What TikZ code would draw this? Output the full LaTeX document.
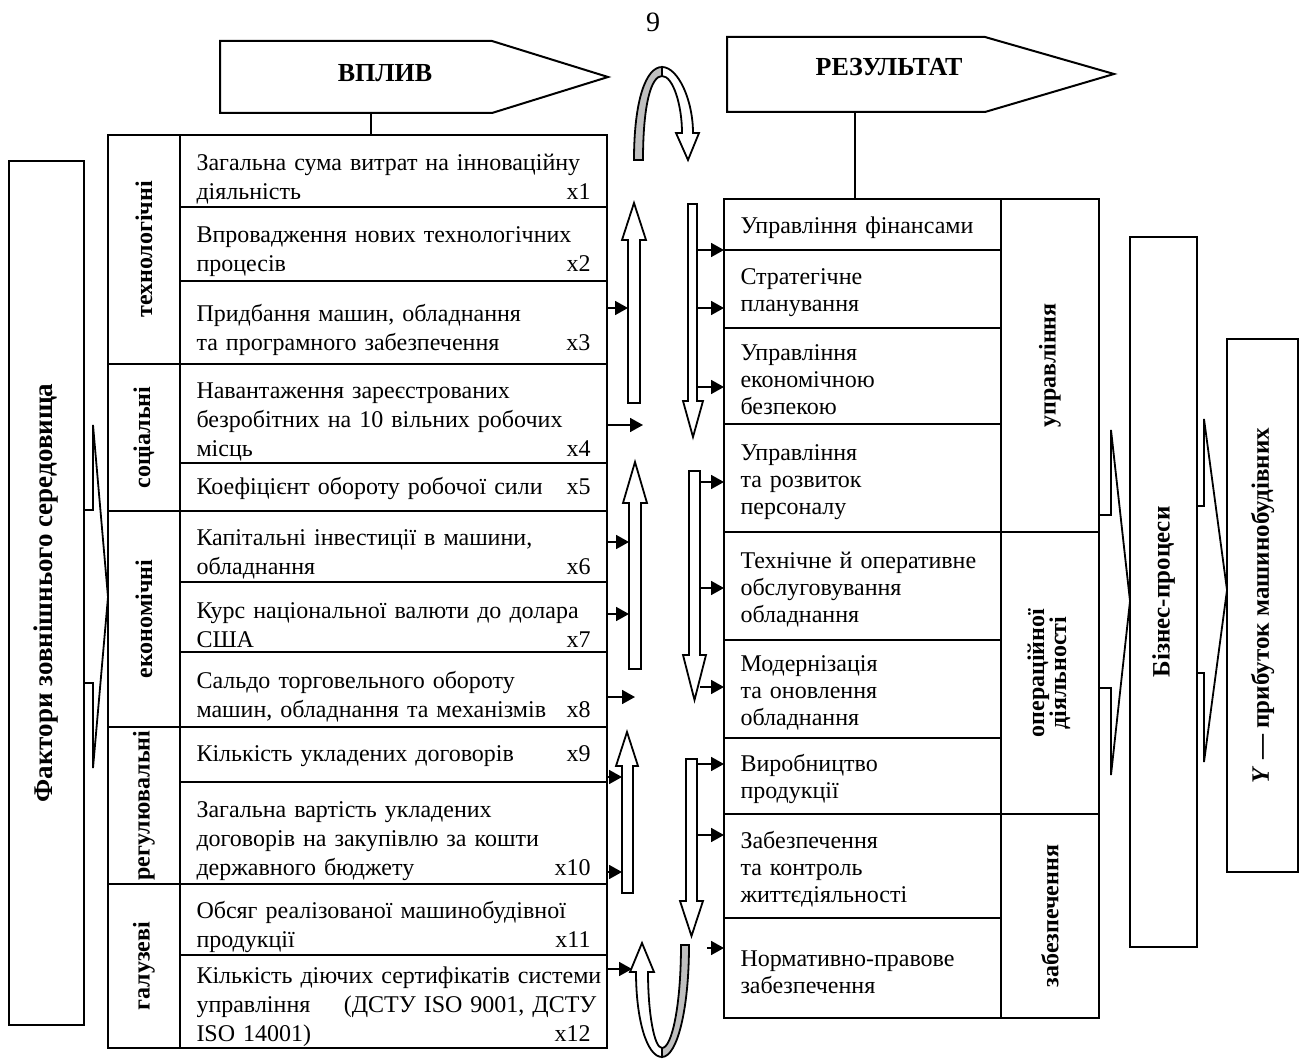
\documentclass[tikz,border=0pt]{standalone}
\usepackage{fontspec}
\setmainfont{Liberation Serif}
\usepackage{tikz}
\usetikzlibrary{arrows.meta,positioning,calc}
\newcommand{\xn}[1]{\hskip 0pt plus 1filll\relax #1\hspace*{3pt}}

\begin{document}
\begin{tikzpicture}[x=0.5pt, y=-0.5pt,
  cell/.style={rectangle, draw, line width=1pt, outer sep=0pt, inner xsep=8.25pt,
               inner ysep=0pt, align=left},
  row/.style={cell, minimum width=213.5pt, text width=197pt, text height=16pt,
              font=\fontsize{12}{14.5}\selectfont},
  rrow/.style={cell, minimum width=138.5pt, text width=122pt, text height=12pt,
               font=\fontsize{12}{13.5}\selectfont},
  cat/.style={rectangle, draw, line width=1pt, outer sep=0pt, inner sep=0pt,
              minimum width=36pt, anchor=north west,
              font=\bfseries\fontsize{12}{13}\selectfont},
  rcat/.style={cat, minimum width=49pt},
  tall/.style={rectangle, draw, line width=1pt, outer sep=0pt, inner sep=0pt,
               anchor=north west, font=\bfseries\fontsize{12.5}{14}\selectfont},
  hollow/.style={draw, fill=white, line width=0.9pt},
  shade/.style={draw, fill=black!25, line width=0.9pt},
  arr/.style={-{Triangle[length=6.5pt, width=7pt]}, line width=0.9pt},
]
\useasboundingbox (0,0) rectangle (1307,1059);

\node[font=\fontsize{14}{16}\selectfont] (pnum) at (653,22) {9};

\draw[line width=1pt] (220,41) -- (492,41) -- (608,77) -- (492,113) -- (220,113) -- cycle;
\node[font=\bfseries\fontsize{13}{15}\selectfont] (vplyv) at (385,73) {ВПЛИВ};
\draw[line width=1pt] (727,37) -- (985,37) -- (1114,74) -- (985,112) -- (727,112) -- cycle;
\node[font=\bfseries\fontsize{13}{15}\selectfont] (rezult) at (889,67) {РЕЗУЛЬТАТ};
\coordinate (vplyvfoot) at (371,113);
\coordinate (rezfoot) at (855,112);

\node[row, minimum height=36pt, anchor=north west] (r1) at (180,135) {Загальна сума витрат на інноваційну\\діяльність\xn{x1}};
\node[row, minimum height=37pt, below=0pt of r1] (r2) {Впровадження нових технологічних\\процесів\xn{x2}};
\node[row, minimum height=41.5pt, below=0pt of r2] (r3) {Придбання машин, обладнання\\та  програмного забезпечення\xn{x3}};
\node[row, minimum height=49.5pt, below=0pt of r3] (r4) {Навантаження зареєстрованих\\безробітних на 10 вільних робочих\\місць\xn{x4}};
\node[row, minimum height=24pt, text height=10pt, below=0pt of r4] (r5) {Коефіцієнт обороту робочої сили\xn{x5}};
\node[row, minimum height=35.5pt, below=0pt of r5] (r6) {Капітальні інвестиції в машини,\\обладнання\xn{x6}};
\node[row, minimum height=35pt, below=0pt of r6] (r7) {Курс національної валюти до долара\\США\xn{x7}};
\node[row, minimum height=37.5pt, below=0pt of r7] (r8) {Сальдо торговельного обороту\\машин, обладнання та механізмів\xn{x8}};
\node[row, minimum height=27.5pt, text height=10pt, below=0pt of r8] (r9) {Кількість укладених договорів\xn{x9}};
\node[row, minimum height=51pt, below=0pt of r9] (r10) {Загальна вартість укладених\\договорів на закупівлю за кошти\\державного бюджету\xn{x10}};
\node[row, minimum height=35.5pt, below=0pt of r10] (r11) {Обсяг реалізованої машинобудівної\\продукції\xn{x11}};
\node[row, minimum height=46.5pt, text height=14pt, below=0pt of r11] (r12) {\makebox[200pt][l]{Кількість діючих сертифікатів системи}\\\makebox[200pt][s]{управління\hfill(ДСТУ ISO 9001, ДСТУ}\\ISO 14001)\xn{x12}};

\node[cat, minimum height=114.5pt] (ctech) at (108,135) {\rotatebox{90}{технологічні}};
\node[cat, minimum height=73.5pt] (csoc) at (108,364) {\rotatebox{90}{соціальні}};
\node[cat, minimum height=108pt] (cecon) at (108,511) {\rotatebox{90}{економічні}};
\node[cat, minimum height=78.5pt] (creg) at (108,727) {\rotatebox{90}{регулювальні}};
\node[cat, minimum height=82pt] (cgal) at (108,884) {\rotatebox{90}{галузеві}};

\node[rrow, minimum height=25.5pt, anchor=north west] (fin) at (724,199) {Управління фінансами};
\node[rrow, minimum height=39pt, below=0pt of fin] (strat) {Стратегічне\\планування};
\node[rrow, minimum height=48pt, below=0pt of strat] (ekbez) {Управління\\економічною\\безпекою};
\node[rrow, minimum height=54pt, below=0pt of ekbez] (pers) {Управління\\та розвиток\\персоналу};
\node[rrow, minimum height=54pt, below=0pt of pers] (obsl) {Технічне й оперативне\\обслуговування\\обладнання};
\node[rrow, minimum height=49pt, below=0pt of obsl] (modern) {Модернізація\\та оновлення\\обладнання};
\node[rrow, minimum height=38pt, below=0pt of modern] (vyrob) {Виробництво\\продукції};
\node[rrow, minimum height=52pt, below=0pt of vyrob] (zhyt) {Забезпечення\\та контроль\\життєдіяльності};
\node[rrow, minimum height=50pt, below=0pt of zhyt] (norm) {Нормативно-правове\\забезпечення};

\node[rcat, minimum height=166.5pt] (cupr) at (1001,199) {\rotatebox{90}{управління}};
\node[rcat, minimum height=141pt] (coper) at (1001,532) {\rotatebox{90}{\begin{tabular}{@{}c@{}}операційної\\[-2pt]діяльності\end{tabular}}};
\node[rcat, minimum height=102pt] (czab) at (1001,814) {\rotatebox{90}{забезпечення}};

\node[tall, minimum width=37.5pt, minimum height=432pt, font=\bfseries\fontsize{13.5}{15}\selectfont] (fact) at (9,161) {\rotatebox{90}{Фактори зовнішнього середовища}};
\node[tall, minimum width=33.5pt, minimum height=355pt] (biz) at (1130,237) {\rotatebox{90}{Бізнес-процеси}};
\node[tall, minimum width=35.5pt, minimum height=266.5pt] (ybox) at (1227,339) {\rotatebox{90}{\textit{Y} — прибуток машинобудівних}};

\draw[line width=1pt] (vplyvfoot) -- (vplyvfoot |- r1.north);
\draw[line width=1pt] (rezfoot) -- (rezfoot |- fin.north);

\draw[line width=0.9pt] (fact.east |- 0,510) -| (93,425) -- (cecon.west |- 0,597) -- (93,768) |- (fact.east |- 0,683);
\draw[line width=0.9pt] (cupr.east |- 0,515) -| (1111,430) -- (biz.west |- 0,601) -- (1111,775) |- (coper.east |- 0,688);
\draw[line width=0.9pt] (biz.east |- 0,506) -| (1204,419) -- (ybox.west |- 0,590) -- (1204,762) |- (biz.east |- 0,673);

\draw[hollow] (628,403) -- (628,240) -- (622,240) -- (634,203) -- (646,240) -- (640,240) -- (640,403) -- cycle;
\draw[hollow] (629,669) -- (629,503) -- (623,503) -- (635,462) -- (647,503) -- (641,503) -- (641,669) -- cycle;
\draw[hollow] (622,893) -- (622,766) -- (616,766) -- (627,732) -- (638,766) -- (633,766) -- (633,893) -- cycle;
\draw[hollow] (688,204) -- (688,401) -- (683,401) -- (693,437) -- (703,401) -- (697,401) -- (697,204) -- cycle;
\draw[hollow] (689,471) -- (689,655) -- (683,655) -- (694.5,700) -- (706,655) -- (700,655) -- (700,471) -- cycle;
\draw[hollow] (686,759) -- (686,901) -- (680,901) -- (691.5,936) -- (703,901) -- (697,901) -- (697,759) -- cycle;

\draw[shade] (634,160) .. controls (634,100) and (646,67) .. (662,67) -- (662,76) .. controls (651,76) and (643,105) .. (643,160) -- cycle;
\draw[hollow] (662,67) .. controls (678,67) and (693,100) .. (693,133) -- (699,133) -- (688,160) -- (676,133) -- (682,133) .. controls (682,105) and (673,76) .. (662,76) -- cycle;
\draw[shade] (689,945) .. controls (689,1010) and (677,1057) .. (662,1057) -- (662,1048) .. controls (672,1048) and (681,1005) .. (681,945) -- cycle;
\draw[hollow] (662,1057) .. controls (647,1057) and (636,1020) .. (636,972) -- (630,972) -- (642,943) -- (654,972) -- (648,972) .. controls (648,1012) and (654,1048) .. (662,1048) -- cycle;

\draw[arr] ([yshift=7.25pt]r3.east) -- ++(21,0);
\draw[arr] ([yshift=-5.75pt]r4.east) -- ++(36,0);
\draw[arr] ([yshift=2.25pt]r6.east) -- ++(22,0);
\draw[arr] ([yshift=1.5pt]r7.east) -- ++(22,0);
\draw[arr] ([yshift=-3.75pt]r8.east) -- ++(28,0);
\draw[arr] ([yshift=-11.25pt]r9.east) -- ++(15,0);
\draw[arr] ([yshift=-19.5pt]r10.east) -- ++(15,0);
\draw[arr] ([yshift=16.25pt]r12.east) -- ++(25,0);

\draw[arr] ([xshift=-13.5pt]fin.south west) -- (fin.south west);
\draw[arr] ([xshift=-13.5pt,yshift=-9.5pt]strat.west) -- ([yshift=-9.5pt]strat.west);
\draw[arr] ([xshift=-13.5pt,yshift=-5.5pt]ekbez.west) -- ([yshift=-5.5pt]ekbez.west);
\draw[arr] ([xshift=-12pt,yshift=-2pt]pers.west) -- ([yshift=-2pt]pers.west);
\draw[arr] ([xshift=-12pt,yshift=-1pt]obsl.west) -- ([yshift=-1pt]obsl.west);
\draw[arr] ([xshift=-12pt,yshift=1pt]modern.west) -- ([yshift=1pt]modern.west);
\draw[arr] ([xshift=-13.5pt,yshift=6pt]vyrob.west) -- ([yshift=6pt]vyrob.west);
\draw[arr] ([xshift=-13.5pt,yshift=15.5pt]zhyt.west) -- ([yshift=15.5pt]zhyt.west);
\draw[arr] ([xshift=-8.5pt,yshift=10pt]norm.west) -- ([yshift=10pt]norm.west);
\end{tikzpicture}
\end{document}
